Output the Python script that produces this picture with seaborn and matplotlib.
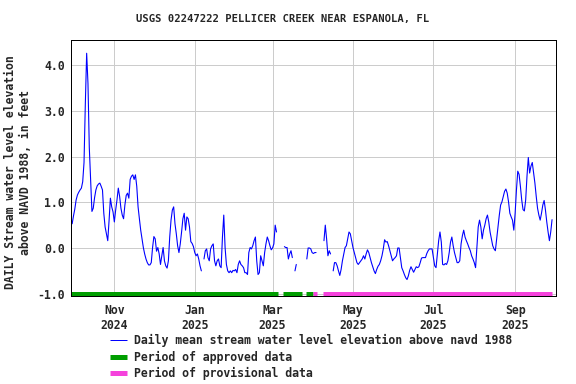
import numpy as np
import pandas as pd
import matplotlib
matplotlib.use('Agg')
import matplotlib.pyplot as plt
from matplotlib.lines import Line2D
import seaborn as sns

# daily mean water level (ft above NAVD 1988), one value per day from start_date
start_date = '2024-09-30'
nan = np.nan
level_ft = [
    0.53, 0.70, 0.85, 1.05, 1.16, 1.22, 1.27, 1.31, 1.45, 1.87,
    3.16, 4.26, 3.60, 2.20, 1.50, 0.80, 0.87, 1.10, 1.27, 1.36,
    1.40, 1.42, 1.35, 1.27, 0.76, 0.46, 0.31, 0.16, 0.60, 1.09,
    0.90, 0.79, 0.57, 0.83, 1.05, 1.31, 1.13, 0.87, 0.72, 0.64,
    0.94, 1.15, 1.20, 1.09, 1.50, 1.57, 1.60, 1.50, 1.60, 1.35,
    0.90, 0.64, 0.39, 0.20, 0.01, -0.13, -0.24, -0.32, -0.37, -0.37,
    -0.32, 0.01, 0.25, 0.20, -0.07, 0.01, -0.13, -0.36, -0.17, 0.01,
    -0.28, -0.39, -0.44, -0.28, 0.24, 0.61, 0.83, 0.90, 0.53, 0.31,
    0.05, -0.10, 0.09, 0.35, 0.64, 0.76, 0.39, 0.68, 0.64, 0.46,
    0.14, 0.10, 0.03, -0.10, -0.17, -0.13, -0.24, -0.39, -0.50, nan,
    -0.24, -0.06, -0.02, -0.21, -0.28, -0.02, 0.05, 0.09, -0.28, -0.39,
    -0.28, -0.24, -0.39, -0.43, 0.24, 0.72, 0.01, -0.36, -0.50, -0.54,
    -0.50, -0.54, -0.49, -0.50, -0.47, -0.54, -0.36, -0.28, -0.36, -0.39,
    -0.43, -0.54, -0.54, -0.58, -0.10, 0.01, -0.02, 0.05, 0.16, 0.24,
    -0.28, -0.58, -0.54, -0.17, -0.28, -0.39, -0.10, 0.09, 0.24, 0.16,
    0.05, -0.04, 0.00, 0.09, 0.50, 0.35, nan, nan, nan, nan,
    nan, 0.03, 0.01, 0.01, -0.24, -0.13, -0.06, -0.21, nan, -0.50,
    -0.36, nan, nan, -0.58, nan, nan, nan, nan, -0.24, 0.00,
    0.00, -0.02, -0.10, -0.12, -0.10, -0.10, nan, nan, nan, nan,
    nan, 0.16, 0.50, 0.20, -0.17, -0.06, -0.13, nan, -0.50, -0.32,
    -0.32, -0.39, -0.50, -0.60, -0.47, -0.28, -0.13, 0.01, 0.05, 0.20,
    0.35, 0.31, 0.16, 0.01, -0.10, -0.21, -0.32, -0.36, -0.32, -0.28,
    -0.24, -0.17, -0.24, -0.13, -0.04, -0.10, -0.21, -0.32, -0.41, -0.50,
    -0.56, -0.47, -0.40, -0.36, -0.28, -0.17, -0.02, 0.18, 0.13, 0.14,
    0.05, -0.06, -0.17, -0.28, -0.24, -0.21, -0.17, 0.00, 0.00, -0.21,
    -0.43, -0.50, -0.58, -0.65, -0.69, -0.61, -0.49, -0.41, -0.47, -0.53,
    -0.47, -0.41, -0.43, -0.41, -0.32, -0.22, -0.21, -0.21, -0.21, -0.12,
    -0.06, -0.02, -0.02, -0.02, -0.21, -0.39, -0.43, -0.13, 0.16, 0.35,
    0.13, -0.36, -0.37, -0.34, -0.36, -0.28, -0.10, 0.13, 0.24, 0.05,
    -0.10, -0.21, -0.32, -0.32, -0.28, 0.09, 0.27, 0.39, 0.24, 0.16,
    0.09, 0.01, -0.06, -0.17, -0.24, -0.32, -0.43, 0.01, 0.46, 0.61,
    0.46, 0.20, 0.39, 0.50, 0.64, 0.72, 0.57, 0.35, 0.20, 0.05,
    -0.02, -0.06, 0.20, 0.46, 0.72, 0.94, 1.01, 1.13, 1.24, 1.29,
    1.20, 1.01, 0.76, 0.68, 0.61, 0.39, 0.76, 1.27, 1.68, 1.61,
    1.35, 1.05, 0.84, 0.81, 1.05, 1.57, 1.98, 1.64, 1.79, 1.87,
    1.64, 1.42, 1.13, 0.87, 0.72, 0.61, 0.76, 0.94, 1.04, 0.83,
    0.57, 0.35, 0.16, 0.35, 0.62,
]

approved_periods = [('2024-09-29', '2025-03-05'),
                    ('2025-03-09', '2025-03-23'),
                    ('2025-03-26', '2025-04-01')]
provisional_periods = [('2025-04-01', '2025-04-04'),
                       ('2025-04-08', '2025-09-29')]

tick_dates = ['2024-11-01', '2025-01-01', '2025-03-01',
              '2025-05-01', '2025-07-01', '2025-09-01']
tick_labels = ['Nov\n2024', 'Jan\n2025', 'Mar\n2025',
               'May\n2025', 'Jul\n2025', 'Sep\n2025']
y_ticks = [-1.0, 0.0, 1.0, 2.0, 3.0, 4.0]

df = pd.DataFrame({'date': pd.date_range(start_date, periods=len(level_ft), freq='D'),
                   'level': level_ft})
df['seg'] = df['level'].isna().cumsum()
df = df.dropna()

sns.set_style('white')
plt.rcParams['font.family'] = ['DejaVu Sans Mono']
plt.rcParams['font.weight'] = 'bold'

blue = '#0000ff'
green = '#009e00'
pink = '#f542dc'

fig = plt.figure(figsize=(8, 384 / 72), dpi=72)
ax = fig.add_axes([71 / 576, 88 / 384, 485 / 576, 256 / 384])

sns.lineplot(data=df, x='date', y='level', units='seg', estimator=None,
             color=blue, lw=1.1, ax=ax, legend=False)

for s, e in approved_periods:
    ax.hlines(-1.0, pd.Timestamp(s), pd.Timestamp(e), colors=green, lw=5)
for s, e in provisional_periods:
    ax.hlines(-1.0, pd.Timestamp(s), pd.Timestamp(e), colors=pink, lw=5)

ax.set_xlim(pd.Timestamp('2024-09-29 03:00'), pd.Timestamp('2025-10-02'))
ax.set_ylim(-1.05, 4.55)
ax.set_xticks(pd.to_datetime(tick_dates))
ax.set_xticklabels(tick_labels)
ax.set_yticks(y_ticks)
ax.set_yticklabels([f'{v:.1f}' for v in y_ticks])
ax.tick_params(axis='both', length=0, labelsize=11.5)
ax.tick_params(axis='x', pad=8)
ax.tick_params(axis='y', pad=6)
ax.set_xlabel('')
ax.set_ylabel('')
ax.grid(True, color='#cccccc', lw=1)
for sp in ax.spines.values():
    sp.set_color('black')
    sp.set_linewidth(1)

fig.text(283 / 576, 1 - 19 / 384, 'USGS 02247222 PELLICER CREEK NEAR ESPANOLA, FL',
         ha='center', va='center', fontsize=10.5, fontweight='bold')
fig.text(18 / 576, 1 - 172 / 384,
         'DAILY Stream water level elevation\nabove NAVD 1988, in feet',
         rotation=90, ha='center', va='center', multialignment='center',
         fontsize=11.5, fontweight='bold')

handles = [Line2D([], [], color=blue, lw=1, solid_capstyle='butt'),
           Line2D([], [], color=green, lw=5, solid_capstyle='butt'),
           Line2D([], [], color=pink, lw=5, solid_capstyle='butt')]
labels = ['Daily mean stream water level elevation above navd 1988',
          'Period of approved data',
          'Period of provisional data']
fig.legend(handles, labels, loc='upper left', bbox_to_anchor=(110 / 576, 1 - 334 / 384),
           frameon=False, fontsize=11.5, borderpad=0, borderaxespad=0,
           handlelength=1.5, handletextpad=0.55, labelspacing=0.3)

fig.savefig('out.png', dpi=72)
